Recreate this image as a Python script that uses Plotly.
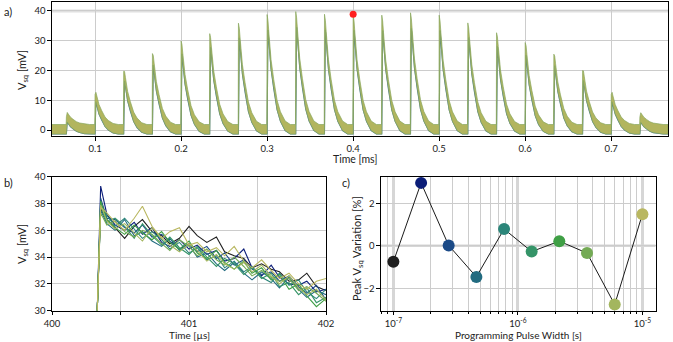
import plotly.graph_objects as go

# ---- panel a: pulse train ----
pulse_times_ms = [0.0667, 0.1000, 0.1333, 0.1667, 0.2000, 0.2333, 0.2667, 0.3000, 0.3333, 0.3667,
                  0.4000, 0.4333, 0.4667, 0.5000, 0.5333, 0.5667, 0.6000, 0.6333, 0.6667, 0.7000, 0.7333]
pulse_peaks_mv = [4.5, 12.0, 19.8, 25.7, 29.9, 32.4, 35.9, 38.8, 39.8, 38.9,
                  38.7, 38.6, 39.4, 38.6, 36.0, 32.7, 29.4, 25.5, 20.0, 12.0, 4.4]
# decay of a spike after its peak, as a fraction of the peak height
decay_offsets_ms = [0.0, 0.001, 0.002, 0.0046, 0.0077, 0.0116, 0.0155, 0.021, 0.027]
decay_fraction = [1.0, 0.90, 0.80, 0.56, 0.39, 0.21, 0.11, 0.03, 0.0]
noise_top_mv = 1.9
noise_bottom_mv = -1.3
marked_time_ms = [0.4]
marked_peak_mv = [38.9]

# ---- panel b: zoom on the pulse at 400 us, one trace per pulse width ----
t_us = [400.330, 400.355, 400.40, 400.46, 400.53, 400.60, 400.66, 400.73, 400.80, 400.86,
        400.93, 401.00, 401.06, 401.13, 401.20, 401.26, 401.33, 401.40, 401.46, 401.53,
        401.60, 401.66, 401.73, 401.80, 401.86, 401.93, 402.00]
traces_mv = [
    [30, 37.6, 36.8, 36.2, 35.4, 36.3, 36.8, 35.9, 35.6, 35.0, 35.4, 36.3, 35.6, 35.1, 35.5, 34.4, 34.1, 33.9, 33.2, 33.5, 33.1, 32.9, 32.2, 32.3, 32.8, 31.8, 31.5],
    [30, 39.3, 37.2, 36.4, 36.0, 36.6, 35.7, 36.2, 35.1, 34.8, 35.3, 34.6, 34.9, 34.2, 34.5, 33.7, 33.9, 34.6, 33.2, 32.6, 33.4, 32.5, 32.0, 31.9, 32.2, 31.4, 31.6],
    [30, 38.4, 36.9, 36.8, 36.2, 35.8, 36.4, 35.5, 35.7, 35.2, 34.6, 35.0, 34.4, 34.8, 33.9, 34.3, 33.4, 33.8, 33.1, 32.7, 32.9, 32.2, 32.6, 31.8, 31.3, 31.9, 30.8],
    [30, 37.5, 36.5, 36.0, 36.8, 35.6, 35.9, 35.2, 34.8, 35.4, 34.5, 34.9, 34.0, 34.3, 33.5, 33.0, 33.6, 32.8, 32.3, 32.9, 32.4, 31.7, 32.5, 31.6, 31.0, 31.5, 31.2],
    [30, 38.0, 37.1, 36.3, 36.9, 36.1, 35.4, 35.9, 35.3, 34.6, 35.1, 34.3, 34.7, 33.8, 34.1, 33.2, 33.7, 32.9, 33.3, 32.5, 32.1, 32.8, 31.9, 32.3, 31.4, 30.9, 31.6],
    [30, 37.8, 36.6, 36.9, 36.3, 35.4, 36.5, 35.6, 34.9, 35.5, 34.7, 34.2, 34.8, 34.0, 33.3, 33.9, 33.5, 32.7, 33.2, 32.4, 32.8, 31.8, 32.1, 31.2, 31.7, 30.6, 31.0],
    [30, 38.2, 36.8, 36.2, 35.7, 36.4, 35.8, 35.3, 35.9, 35.1, 34.6, 35.2, 34.3, 33.9, 34.5, 33.6, 33.1, 33.7, 32.8, 33.2, 32.3, 32.7, 31.6, 32.0, 31.1, 30.3, 30.9],
    [30, 37.3, 36.4, 36.7, 35.9, 35.5, 36.0, 35.7, 35.0, 34.5, 35.3, 34.8, 34.1, 34.6, 33.8, 33.4, 34.0, 33.3, 32.6, 33.0, 32.5, 32.2, 32.4, 31.5, 31.8, 31.3, 30.7],
    [30, 37.9, 36.7, 36.1, 36.5, 35.8, 35.2, 36.2, 35.4, 34.9, 34.4, 35.0, 34.5, 33.7, 34.2, 33.5, 33.1, 33.6, 32.9, 33.4, 32.6, 32.0, 32.6, 31.7, 31.2, 31.6, 30.8],
    [30, 37.7, 37.3, 36.6, 36.0, 36.9, 37.8, 36.3, 35.4, 35.9, 36.2, 34.9, 35.1, 34.4, 34.7, 34.1, 34.8, 33.7, 33.2, 33.8, 33.0, 32.4, 32.8, 32.0, 31.6, 32.2, 32.4],
]

# ---- panel c: peak variation vs programming pulse width ----
pulse_width_s = [1.0e-7, 1.67e-7, 2.78e-7, 4.64e-7, 7.74e-7, 1.29e-6, 2.15e-6, 3.59e-6, 5.99e-6, 1.0e-5]
peak_variation_pct = [-0.75, 2.96, 0.02, -1.46, 0.79, -0.27, 0.22, -0.34, -2.76, 1.49]
colors = ['#1f1f1f', '#0b1d78', '#1b4a87', '#226b80', '#2b8579',
          '#359468', '#3f9f45', '#74aa55', '#a3b65e', '#b9b760']

FONT = 'Lato'
GRID = '#cccccc'


def band_polygon():
    """Upper and lower edge of the noisy band in panel a."""
    up_x, up_y, lo_x, lo_y = [0.05], [noise_top_mv], [0.05], [noise_bottom_mv]
    for tp, pk in zip(pulse_times_ms, pulse_peaks_mv):
        up_x.append(tp - 0.0003); up_y.append(noise_top_mv)
        lo_x.append(tp - 0.0003); lo_y.append(noise_bottom_mv)
        lo_x.append(tp); lo_y.append(noise_bottom_mv)
        for i, (dt, f) in enumerate(zip(decay_offsets_ms, decay_fraction)):
            up_x.append(tp + dt)
            up_y.append(pk if i == 0 else pk * f + noise_top_mv)
            if i > 0:
                lo_x.append(tp + dt); lo_y.append(pk * f + noise_bottom_mv)
    up_x.append(0.766); up_y.append(noise_top_mv)
    lo_x.append(0.766); lo_y.append(noise_bottom_mv)
    return up_x, up_y, lo_x, lo_y


fig = go.Figure()

up_x, up_y, lo_x, lo_y = band_polygon()
fig.add_trace(go.Scatter(x=lo_x, y=lo_y, mode='lines', line=dict(color='#4a7a8a', width=1.1),
                         xaxis='x', yaxis='y', hoverinfo='skip'))
fig.add_trace(go.Scatter(x=up_x + lo_x[::-1], y=up_y + lo_y[::-1], mode='lines', fill='toself',
                         fillcolor='#b2b55e', line=dict(color='#88a85e', width=0.7),
                         xaxis='x', yaxis='y', hoverinfo='skip'))
fig.add_trace(go.Scatter(x=marked_time_ms, y=marked_peak_mv, mode='markers',
                         marker=dict(color='#ff2020', size=7), xaxis='x', yaxis='y'))

for vals, c in zip(traces_mv, colors):
    fig.add_trace(go.Scatter(x=t_us, y=vals, mode='lines', line=dict(color=c, width=1.1),
                             xaxis='x2', yaxis='y2'))

fig.add_trace(go.Scatter(x=pulse_width_s, y=peak_variation_pct, mode='lines+markers',
                         line=dict(color='#1a1a1a', width=1),
                         marker=dict(color=colors, size=12),
                         xaxis='x3', yaxis='y3'))

axis_common = dict(showline=True, linecolor='black', linewidth=1.2, mirror=True,
                   ticks='outside', ticklen=3.5, tickcolor='black', tickwidth=1,
                   showgrid=True, gridcolor=GRID, gridwidth=1, zeroline=False,
                   tickfont=dict(family=FONT, size=9.5, color='#222'))

minor_vals = [m * 10.0 ** e for e in (-8, -7, -6, -5) for m in range(2, 10)]

fig.update_layout(
    width=673, height=342, margin=dict(l=0, r=0, t=0, b=0, autoexpand=False),
    paper_bgcolor='white', plot_bgcolor='white', showlegend=False,
    font=dict(family=FONT, size=10, color='#222'),
    xaxis=dict(axis_common, domain=[0.0773, 0.9926], range=[0.05, 0.766],
               tickvals=[0.1, 0.2, 0.3, 0.4, 0.5, 0.6, 0.7], anchor='y'),
    yaxis=dict(axis_common, domain=[0.602, 0.994], range=[-2, 43.0],
               tickvals=[0, 10, 20, 30, 40], anchor='x'),
    xaxis2=dict(axis_common, domain=[0.0773, 0.4844], range=[400, 402],
                tickvals=[400, 400.5, 401, 401.5, 402], ticktext=['400', '', '401', '', '402'],
                anchor='y2'),
    yaxis2=dict(axis_common, domain=[0.0915, 0.4833], range=[30, 40],
                tickvals=[30, 32, 34, 36, 38, 40], anchor='x2'),
    xaxis3=dict(axis_common, type='log', domain=[0.566, 0.974], range=[-7.1, -4.895],
                tickvals=[1e-7, 1e-6, 1e-5],
                ticktext=['10<sup>-7</sup>', '10<sup>-6</sup>', '10<sup>-5</sup>'],
                gridcolor='#d6d6d6', gridwidth=2.5,
                minor=dict(tickvals=minor_vals, ticks='outside', ticklen=2, tickcolor='black',
                           showgrid=True, gridcolor=GRID, gridwidth=1),
                anchor='y3'),
    yaxis3=dict(axis_common, domain=[0.0915, 0.4833], range=[-3.05, 3.25],
                tickvals=[-2, 0, 2], anchor='x3'),
)

# heavier reference lines
fig.add_shape(type='line', xref='x domain', yref='y', x0=0, x1=1, y0=40, y1=40,
              line=dict(color='#e0e0e0', width=3), layer='below')
fig.add_shape(type='line', xref='x3 domain', yref='y3', x0=0, x1=1, y0=0, y1=0,
              line=dict(color='#d6d6d6', width=2.5), layer='below')


def label(text, x, y, angle=0, size=11):
    fig.add_annotation(text=text, x=x / 673, y=1 - y / 342, xref='paper', yref='paper',
                       showarrow=False, textangle=angle, xanchor='center', yanchor='middle',
                       font=dict(family=FONT, size=size, color='#222'))


label('a)', 8, 11)
label('b)', 8, 182)
label('c)', 346, 182)
label('V<sub>sq</sub> [mV]', 22, 70, angle=-90)
label('V<sub>sq</sub> [mV]', 22, 244, angle=-90)
label('Peak V<sub>sq</sub> Variation [%]', 357, 249, angle=-90)
label('Time [ms]', 355, 159.5, size=10.5)
label('Time [µs]', 189, 334.5, size=10)
label('Programming Pulse Width [s]', 518, 334.5, size=10)

# the page's default body margin would push the figure off its 673x342 frame
fig.write_html('out.html', config={'displayModeBar': False},
               post_script="document.body.style.margin='0';")
